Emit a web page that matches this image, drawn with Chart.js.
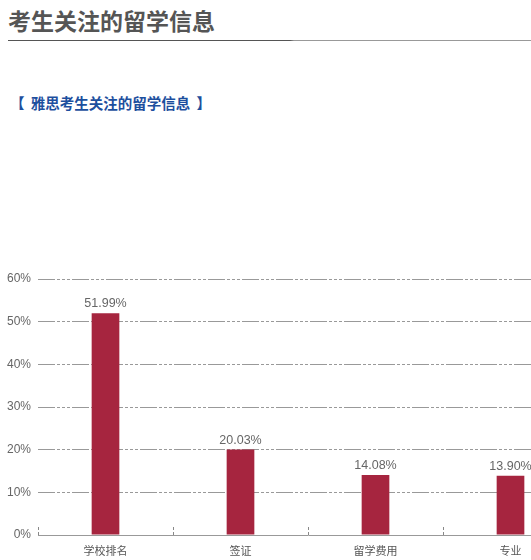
<!DOCTYPE html>
<html lang="zh">
<head>
    <meta charset="UTF-8">
    <title>考生关注的留学信息</title>
    <style>
        body { margin: 0; width: 531px; height: 560px; overflow: hidden; background: #fff; position: relative;
               font-family: "Liberation Sans", "Noto Sans CJK SC", sans-serif; }
        h1 { position: absolute; left: 8px; top: 6px; margin: 0; font-size: 23px; line-height: 28px; color: #555;
             font-family: "Noto Sans CJK SC", sans-serif; font-weight: bold; }
        .rule { position: absolute; top: 40px; left: 8px; right: 0; height: 1px;
                background: linear-gradient(to right, #555 0, #555 282px, #999 286px, #999 100%); }
        .sub { position: absolute; left: 10px; top: 92px; margin: 0; font-size: 14.5px; line-height: 22px; color: #1d4f9e;
               font-family: "Noto Sans CJK SC", sans-serif; font-weight: bold; word-spacing: 3px; }
        .chart-box { position: absolute; left: 0; top: 260px; width: 578px; height: 300px; }
    </style>
</head>
<body>
    <h1>考生关注的留学信息</h1>
    <div class="rule"></div>
    <p class="sub">【 雅思考生关注的留学信息 】</p>
    <div class="chart-box"><canvas id="myChart"></canvas></div>

    <script src="https://cdn.jsdelivr.net/npm/chart.js"></script>
    <script>
    const categories = ['学校排名', '签证', '留学费用', '专业'];
    const shares = [51.99, 20.03, 14.08, 13.90];
    const yTicks = [0, 10, 20, 30, 40, 50, 60];

    // value labels above each bar
    const valueLabels = {
        id: 'valueLabels',
        afterDatasetsDraw(chart) {
            const ctx = chart.ctx;
            ctx.save();
            ctx.font = '12.5px "Liberation Sans", Arial, sans-serif';
            ctx.fillStyle = '#666';
            ctx.textAlign = 'center';
            ctx.textBaseline = 'bottom';
            chart.getDatasetMeta(0).data.forEach((bar, i) => {
                ctx.fillText(shares[i].toFixed(2) + '%', bar.x, bar.y - 3);
            });
            ctx.restore();
        }
    };

    // short dashed marks at category boundaries on the x axis
    const boundaryTicks = {
        id: 'boundaryTicks',
        afterDraw(chart) {
            const x = chart.scales.x;
            const ctx = chart.ctx;
            const half = (x.getPixelForValue(1) - x.getPixelForValue(0)) / 2;
            const bottom = chart.chartArea.bottom;
            ctx.save();
            ctx.strokeStyle = '#888';
            ctx.lineWidth = 1;
            ctx.setLineDash([3, 2]);
            for (let i = 0; i <= categories.length; i++) {
                const px = Math.round(x.getPixelForValue(i) - half) + 0.5;
                ctx.beginPath();
                ctx.moveTo(px, bottom);
                ctx.lineTo(px, bottom - 8);
                ctx.stroke();
            }
            ctx.restore();
        }
    };

    const ctx = document.getElementById('myChart').getContext('2d');
    window.myChart = new Chart(ctx, {
        type: 'bar',
        data: {
            labels: categories,
            datasets: [{
                data: shares,
                backgroundColor: '#a6253f',
                categoryPercentage: 1,
                barPercentage: 0.205
            }]
        },
        options: {
            responsive: true,
            maintainAspectRatio: false,
            animation: false,
            layout: { padding: { top: 19, right: 0, left: 0, bottom: 0 } },
            plugins: { legend: { display: false }, tooltip: { enabled: false } },
            scales: {
                x: {
                    grid: { display: false, drawTicks: false },
                    border: { display: true, color: '#999' },
                    ticks: { color: '#555', padding: 9, font: { size: 11, family: '"Noto Sans CJK SC", sans-serif' } },
                    afterFit(scale) { scale.height = 25; }
                },
                y: {
                    min: 0,
                    max: 60,
                    afterBuildTicks(scale) { scale.ticks = yTicks.map(v => ({ value: v })); },
                    grid: { color: '#999', drawTicks: false, lineWidth: 1 },
                    border: { display: false, dash: [17, 2, 3, 2, 3, 2, 3, 2] },
                    ticks: {
                        color: '#666',
                        padding: 7,
                        font: { size: 12, family: '"Liberation Sans", Arial, sans-serif' },
                        callback: v => v + '%'
                    },
                    afterFit(scale) { scale.width = 38; }
                }
            }
        },
        plugins: [valueLabels, boundaryTicks]
    });
    </script>
</body>
</html>
